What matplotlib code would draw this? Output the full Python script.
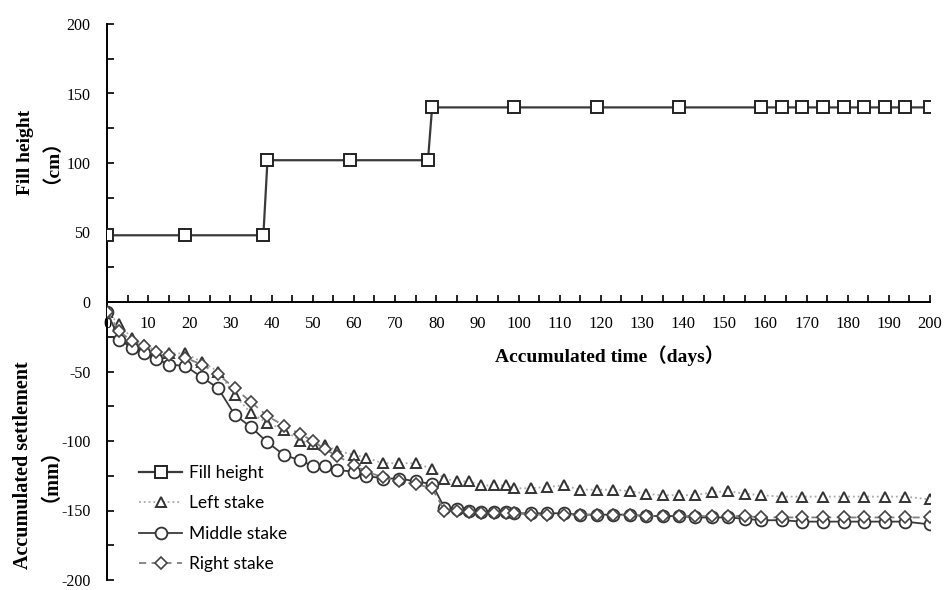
import matplotlib
matplotlib.use("Agg")
import matplotlib.pyplot as plt
from matplotlib.ticker import MultipleLocator

plt.rcParams['axes.unicode_minus'] = False

# ---- data ----
fill_days = [0, 19, 38, 39, 59, 78, 79, 99, 119, 139, 159, 164, 169, 174, 179, 184, 189, 194, 200]
fill_height = [48, 48, 48, 102, 102, 102, 140, 140, 140, 140, 140, 140, 140, 140, 140, 140, 140, 140, 140]

days = [0, 3, 6, 9, 12, 15, 19, 23, 27, 31, 35, 39, 43, 47, 50, 53, 56, 60, 63, 67,
        71, 75, 79, 82, 85, 88, 91, 94, 97, 99, 103, 107, 111, 115, 119, 123, 127, 131,
        135, 139, 143, 147, 151, 155, 159, 164, 169, 174, 179, 184, 189, 194, 200]
left_stake = [-7, -16, -26, -31, -35, -37, -37, -43, -50, -67, -80, -87, -92, -100, -102, -103, -107, -110, -112, -116,
              -116, -116, -120, -127, -129, -129, -132, -132, -132, -134, -134, -133, -132, -135, -135, -135, -136, -138,
              -139, -139, -139, -137, -136, -138, -139, -140, -140, -140, -140, -140, -140, -140, -142]
middle_stake = [-7, -27, -33, -37, -41, -45, -46, -54, -62, -81, -90, -101, -110, -114, -118, -118, -121, -122, -125, -127,
                -127, -129, -131, -148, -149, -150, -151, -151, -151, -152, -152, -152, -152, -153, -153, -153, -153, -154,
                -154, -154, -155, -155, -155, -156, -157, -157, -158, -158, -158, -158, -158, -158, -160]
right_stake = [-7, -21, -28, -32, -36, -38, -40, -45, -52, -62, -72, -82, -89, -95, -100, -106, -111, -117, -122, -126,
               -129, -131, -134, -150, -150, -151, -152, -152, -152, -152, -153, -153, -153, -153, -153, -153, -153, -154,
               -154, -154, -154, -154, -154, -154, -155, -155, -155, -155, -155, -155, -155, -155, -155]

x_ticks = list(range(0, 201, 10))
y_ticks = list(range(-200, 201, 50))

serif = ['Liberation Serif', 'Noto Sans CJK SC']

fig = plt.figure(figsize=(9.48, 5.90), dpi=100)
ax = fig.add_axes([107/948, 1-580/590, (930-107)/948, (580-24)/590])

ax.plot(fill_days, fill_height, color='#3a3a3a', lw=1.6, marker='s', ms=8, mfc='white',
        mec='#222222', mew=1.4, label='Fill height', zorder=3)
ax.plot(days, left_stake, color='#a8a8a8', lw=1.3, ls=':', marker='^', ms=7.5, mfc='white',
        mec='#333333', mew=1.4, label='Left stake', zorder=3)
ax.plot(days, middle_stake, color='#3a3a3a', lw=1.3, ls='-', marker='o', ms=8.5, mfc='white',
        mec='#333333', mew=1.3, label='Middle stake', zorder=3)
ax.plot(days, right_stake, color='#808080', lw=1.3, ls=(0, (4, 3)), marker='D', ms=6, mfc='white',
        mec='#444444', mew=1.2, label='Right stake', zorder=4)

ax.set_xlim(0, 200)
ax.set_ylim(-200, 200)
ax.spines['top'].set_visible(False)
ax.spines['right'].set_visible(False)
ax.spines['bottom'].set_position(('data', 0))
for s in ('left', 'bottom'):
    ax.spines[s].set_linewidth(1.4)
    ax.spines[s].set_color('black')
    ax.spines[s].set_zorder(2)

ax.set_xticks(x_ticks)
ax.set_xticklabels([str(t) for t in x_ticks])
ax.xaxis.set_minor_locator(MultipleLocator(5))
ax.set_yticks(y_ticks)
ax.set_yticklabels([str(t) for t in y_ticks])
ax.yaxis.set_minor_locator(MultipleLocator(25))
ax.tick_params(axis='x', which='both', direction='in', length=5, width=1.2, pad=10, labelsize=12)
ax.tick_params(axis='y', which='both', direction='in', length=5, width=1.2, pad=12, labelsize=11.5)
for lab in ax.get_xticklabels() + ax.get_yticklabels():
    lab.set_family(serif)

fig.text(610/948, 1-356/590, 'Accumulated time（days）', ha='center', va='center',
         fontsize=14, fontweight='bold', family=serif)
fig.text(34/948, 1-152/590, 'Fill height\n（cm）', ha='center', va='center', rotation=90,
         fontsize=14, fontweight='bold', family=serif, linespacing=0.85)
fig.text(32/948, 1-465/590, 'Accumulated settlement\n（mm）', ha='center', va='center', rotation=90,
         fontsize=14.5, fontweight='bold', family=serif, linespacing=0.85)

leg = ax.legend(loc='upper left', bbox_to_anchor=(139/948, 1-465/590), bbox_transform=fig.transFigure,
                frameon=False, numpoints=1, handlelength=2.5, handletextpad=0.4, labelspacing=0.83,
                borderpad=0, borderaxespad=0, prop={'family': 'Lato', 'size': 12.5})

fig.savefig('out.png', dpi=100)
